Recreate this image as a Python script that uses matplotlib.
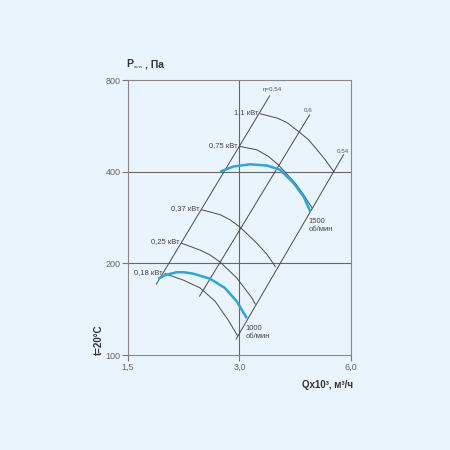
import matplotlib
matplotlib.use("Agg")
import matplotlib.pyplot as plt
from matplotlib.ticker import NullLocator

plt.rcParams['font.family'] = ['Liberation Sans', 'DejaVu Sans']

# axis ticks
x_ticks = [1.5, 3.0, 6.0]
x_tick_labels = ['1,5', '3,0', '6,0']
y_ticks = [100, 200, 400, 800]
y_tick_labels = ['100', '200', '400', '800']

# efficiency lines (q, p) end points
eta_labels = ['η=0,54', '0,6', '0,54']
eta_q = [[1.79, 3.62], [2.34, 4.64], [2.94, 5.73]]
eta_p = [[171, 710], [156, 615], [113, 455]]
eta_label_q = [3.67, 4.61, 5.71]
eta_label_p = [743, 639, 469]

# power arcs
power_labels = ['1,1 кВт', '0,75 кВт', '0,37 кВт', '0,25 кВт', '0,18 кВт']
power_q = [
    [3.41, 3.79, 4.03, 4.33, 4.61, 4.86, 5.11, 5.39],
    [3.01, 3.34, 3.59, 3.82, 4.24, 4.47, 4.71],
    [2.37, 2.66, 2.83, 3.01, 3.34, 3.56, 3.75],
    [2.09, 2.35, 2.50, 2.66, 2.95, 3.24, 3.31],
    [1.89, 2.12, 2.35, 2.58, 2.80, 2.96],
]
power_p = [
    [620, 600, 580, 542, 509, 472, 438, 400],
    [484, 472, 449, 421, 367, 336, 304],
    [300, 289, 278, 263, 233, 214, 195],
    [233, 221, 213, 202, 179, 154, 147],
    [185, 176, 166, 150, 130, 116],
]

# fan curves
rpm_labels = ['1500\nоб/мин', '1000\nоб/мин']
q_1500 = [2.66, 2.89, 3.21, 3.56, 3.86, 4.20, 4.47, 4.66]
p_1500 = [400, 416, 423, 419, 406, 367, 331, 296]
q_1000 = [1.81, 1.89, 2.03, 2.12, 2.25, 2.50, 2.74, 2.95, 3.14]
p_1000 = [178, 183, 187, 187, 185, 178, 166, 150, 132]

bg = '#eaf4fc'
fig = plt.figure(figsize=(4.5, 4.5), dpi=100, facecolor=bg)
ax = fig.add_axes([0.2844, 0.2111, 0.4956, 0.6111], facecolor=bg)
ax.set_xscale('log')
ax.set_yscale('log')
ax.set_xlim(1.5, 6.0)
ax.set_ylim(100, 800)
ax.xaxis.set_minor_locator(NullLocator())
ax.yaxis.set_minor_locator(NullLocator())
ax.set_xticks(x_ticks)
ax.set_xticklabels(x_tick_labels)
ax.set_yticks(y_ticks)
ax.set_yticklabels(y_tick_labels)
ax.tick_params(length=4, width=0.8, color='#777777', labelcolor='#666666',
               labelsize=6.5, pad=1.5)
for s in ax.spines.values():
    s.set_color('#888888')
    s.set_linewidth(0.8)

# grid lines
ax.axvline(3.0, color='#666666', lw=0.8, zorder=1)
ax.axhline(400, color='#666666', lw=0.8, zorder=1)
ax.axhline(200, color='#666666', lw=0.8, zorder=1)

line_c = '#4a4a4a'
for q, p in zip(eta_q, eta_p):
    ax.plot(q, p, color=line_c, lw=0.7, zorder=2)
for lab, q, p in zip(eta_labels, eta_label_q, eta_label_p):
    ax.text(q, p, lab, fontsize=4.5, color='#555555', ha='center', va='center')

for lab, q, p in zip(power_labels, power_q, power_p):
    ax.plot(q, p, color=line_c, lw=0.7, zorder=2, solid_joinstyle='round')
    ax.annotate(lab, (q[0], p[0]), xytext=(-1.5, 1), textcoords='offset points',
                fontsize=5.5, color='#444444', ha='right', va='center')

ax.plot(q_1500, p_1500, color='#2aa6d9', lw=1.8, zorder=3,
        solid_capstyle='butt', solid_joinstyle='round')
ax.plot(q_1000, p_1000, color='#2aa6d9', lw=1.8, zorder=3,
        solid_capstyle='butt', solid_joinstyle='round')

ax.annotate(rpm_labels[0], (q_1500[-1], p_1500[-1]), xytext=(-1, -5),
            textcoords='offset points', fontsize=5.5, color='#444444',
            ha='left', va='top', linespacing=1.1)
ax.annotate(rpm_labels[1], (q_1000[-1], p_1000[-1]), xytext=(-1, -5),
            textcoords='offset points', fontsize=5.5, color='#444444',
            ha='left', va='top', linespacing=1.1)

# axis titles
fig.text(0.28, 0.851, 'P', fontsize=7.5, fontweight='bold', color='#333333',
         ha='left', va='baseline')
fig.text(0.297, 0.849, 'полн', fontsize=3, color='#333333', ha='left', va='baseline')
fig.text(0.323, 0.851, ', Па', fontsize=7.5, fontweight='bold', color='#333333',
         ha='left', va='baseline')
fig.text(0.785, 0.145, 'Qx10³, м³/ч', fontsize=7, fontweight='bold', color='#333333',
         ha='right', va='center')
fig.text(0.22, 0.245, 't=20°C', fontsize=7, fontweight='bold', color='#333333',
         rotation=90, ha='center', va='center')

fig.savefig('out.png', dpi=100, facecolor=bg)
